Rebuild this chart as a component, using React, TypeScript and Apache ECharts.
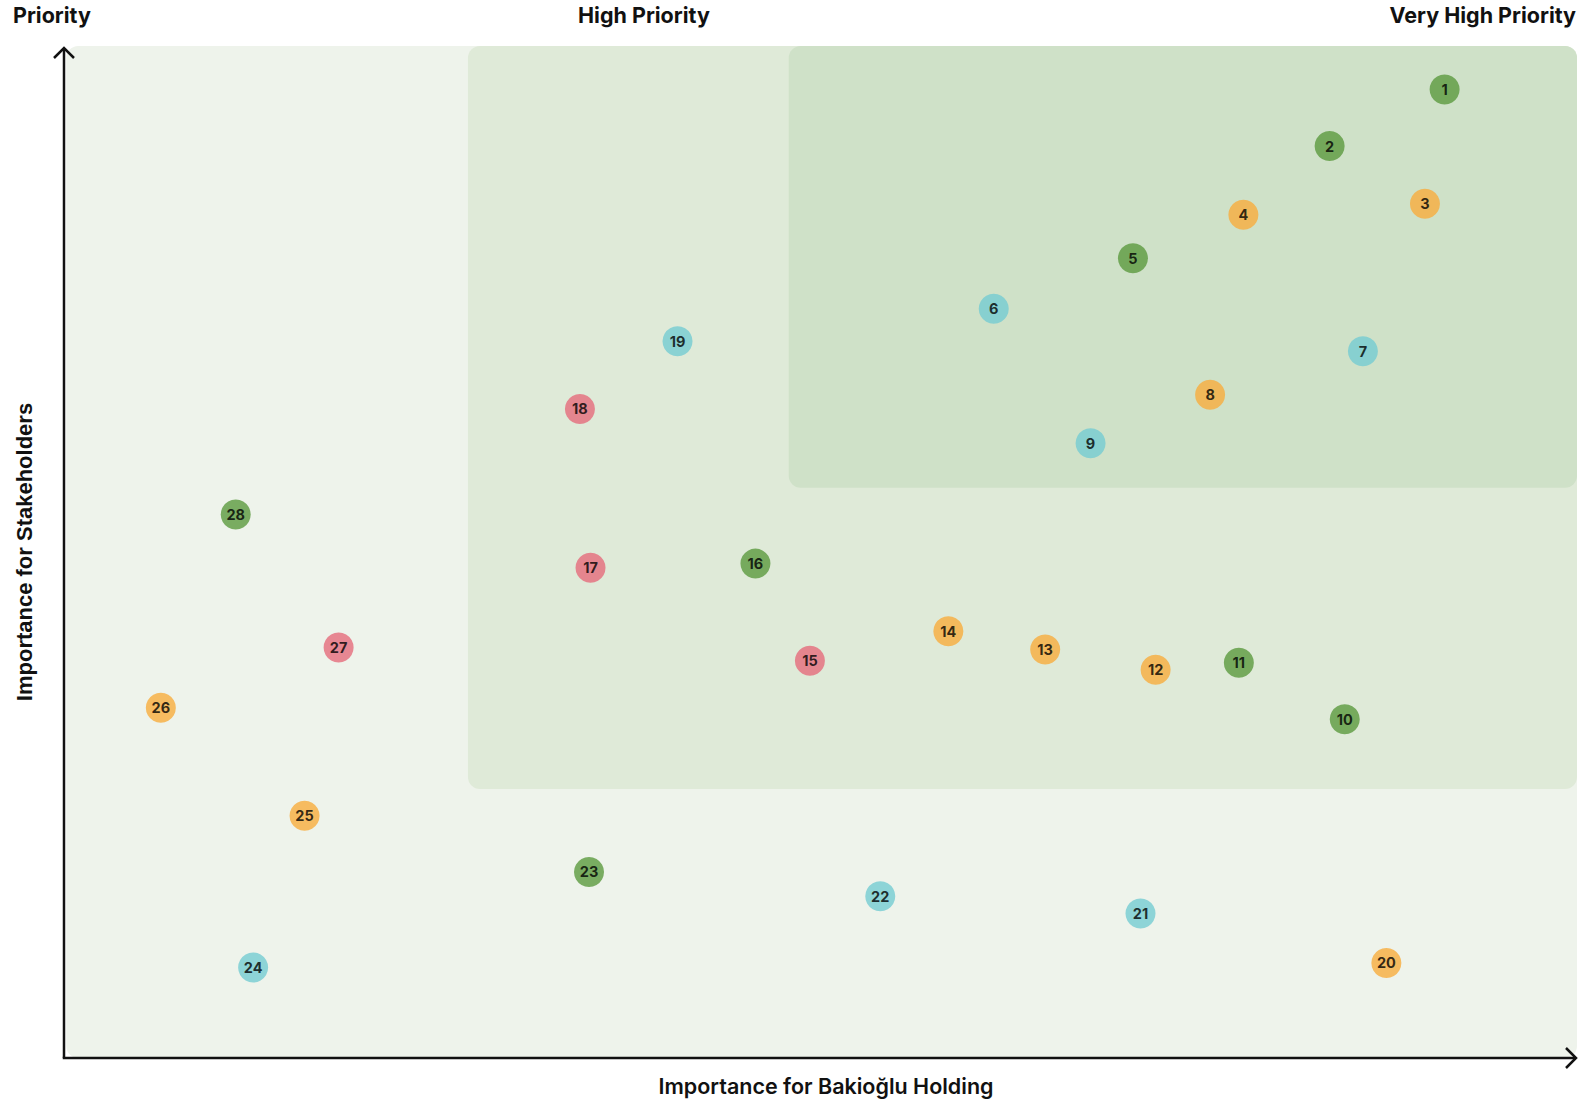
import React, { useEffect, useRef } from "react";
import * as echarts from "echarts";

// Topic ids and coordinates (x: importance for Bakioğlu Holding, y: importance for stakeholders)
const topicIds = [1,2,3,4,5,6,7,8,9,10,11,12,13,14,15,16,17,18,19,20,21,22,23,24,25,26,27,28];
const xValues = [91.25,83.65,89.95,77.95,70.65,61.45,85.85,75.75,67.85,84.65,77.65,72.15,64.85,58.45,49.3,45.7,34.8,34.1,40.55,87.4,71.15,53.95,34.7,12.5,15.9,6.4,18.15,11.35];
const yValues = [95.8,90.2,84.5,83.4,79.1,74.1,69.9,65.6,60.8,33.5,39.1,38.4,40.4,42.2,39.3,48.9,48.5,64.2,70.9,9.4,14.3,16.0,18.4,8.95,23.95,34.65,40.6,53.75];
const topicGroups = ["g","g","o","o","g","t","t","o","t","g","g","o","o","o","r","g","r","r","t","o","t","t","g","t","o","o","r","g"];
const groupColors: Record<string, string> = { g: "#5b9a3f", o: "#f8ad3d", t: "#74ccd2", r: "#e56c7c" };

// Priority zones [x0, y0, x1, y1]
const zoneNames = ["Priority", "High Priority", "Very High Priority"];
const zoneBounds = [
  [0.15, 0, 100, 100.1],
  [26.7, 26.6, 100, 100.1],
  [47.9, 56.4, 100, 100.1],
];
const zoneColors = ["#eef3eb", "#dfead8", "#cfe1c8"];

export default function App() {
  const ref = useRef<HTMLDivElement>(null);
  useEffect(() => {
    if (!ref.current) return;
    const chart = echarts.init(ref.current, undefined, { renderer: "svg" });
    const gridLeft = 64, gridTop = 47, gridRight = 1, gridBottom = 41;
    const W = 1578, H = 1099;
    const x0 = gridLeft, y0 = H - gridBottom, x1 = W - gridRight, yTop = gridTop;
    const points = topicIds.map((id, i) => ({
      value: [xValues[i], yValues[i], id],
      itemStyle: { color: groupColors[topicGroups[i]] },
    }));
    const zones = zoneBounds.map((b, i) => ({ value: [...b, i] }));
    chart.setOption({
      animation: false,
      grid: { left: gridLeft, right: gridRight, top: gridTop, bottom: gridBottom },
      xAxis: {
        type: "value", min: 0, max: 100,
        axisLine: { show: false },
        axisTick: { show: false }, axisLabel: { show: false }, splitLine: { show: false },
      },
      yAxis: {
        type: "value", min: 0, max: 100,
        axisLine: { show: false },
        axisTick: { show: false }, axisLabel: { show: false }, splitLine: { show: false },
      },
      graphic: [
        { type: "text", left: 13, top: 4, style: { text: zoneNames[0], font: "bold 21.5px Inter", fill: "#111" } },
        { type: "text", left: 578, top: 4, style: { text: zoneNames[1], font: "bold 21.5px Inter", fill: "#111" } },
        { type: "text", right: 2, top: 4, style: { text: zoneNames[2], font: "bold 21.5px Inter", fill: "#111" } },
        {
          type: "text", x: 826, y: 1086,
          style: { text: "Importance for Bakioğlu Holding", font: "600 21.5px Inter", fill: "#111", align: "center", verticalAlign: "middle" },
        },
        {
          type: "text", x: 24, y: 552, rotation: Math.PI / 2,
          style: { text: "Importance for Stakeholders", font: "bold 22px 'Liberation Sans'", fill: "#111", align: "center", verticalAlign: "middle" },
        },
        {
          type: "polyline", z: 10,
          shape: { points: [[x0 - 10, yTop + 11], [x0, yTop + 1], [x0 + 10, yTop + 11]] },
          style: { stroke: "#111", lineWidth: 2.5, fill: "none" },
        },
        {
          type: "line", z: 10,
          shape: { x1: x0, y1: yTop + 1, x2: x0, y2: y0 },
          style: { stroke: "#111", lineWidth: 2.5 },
        },
        {
          type: "line", z: 10,
          shape: { x1: x0 - 1.25, y1: y0, x2: x1 - 1, y2: y0 },
          style: { stroke: "#111", lineWidth: 2.5 },
        },
        {
          type: "polyline", z: 10,
          shape: { points: [[x1 - 11, y0 - 10], [x1 - 1, y0], [x1 - 11, y0 + 10]] },
          style: { stroke: "#111", lineWidth: 2.5, fill: "none" },
        },
      ],
      series: [
        {
          type: "custom",
          z: 1,
          silent: true,
          data: zones,
          renderItem: (params: any, api: any) => {
            const p0 = api.coord([api.value(0), api.value(1)]);
            const p1 = api.coord([api.value(2), api.value(3)]);
            const idx = api.value(4);
            return {
              type: "rect",
              shape: { x: p0[0], y: p1[1], width: p1[0] - p0[0], height: p0[1] - p1[1], r: 12 },
              style: { fill: zoneColors[idx] },
            };
          },
        },
        {
          type: "scatter",
          z: 5,
          symbolSize: 30,
          data: points,
          label: {
            show: true, position: "inside",
            formatter: (p: any) => String(p.value[2]),
            color: "#000", fontSize: 14.5, fontWeight: "bold", fontFamily: "Inter",
          },
        },
      ],
    });
    return () => chart.dispose();
  }, []);
  return <div ref={ref} style={{ width: 1578, height: 1099, position: "absolute", left: 0, top: 0 }} />;
}
